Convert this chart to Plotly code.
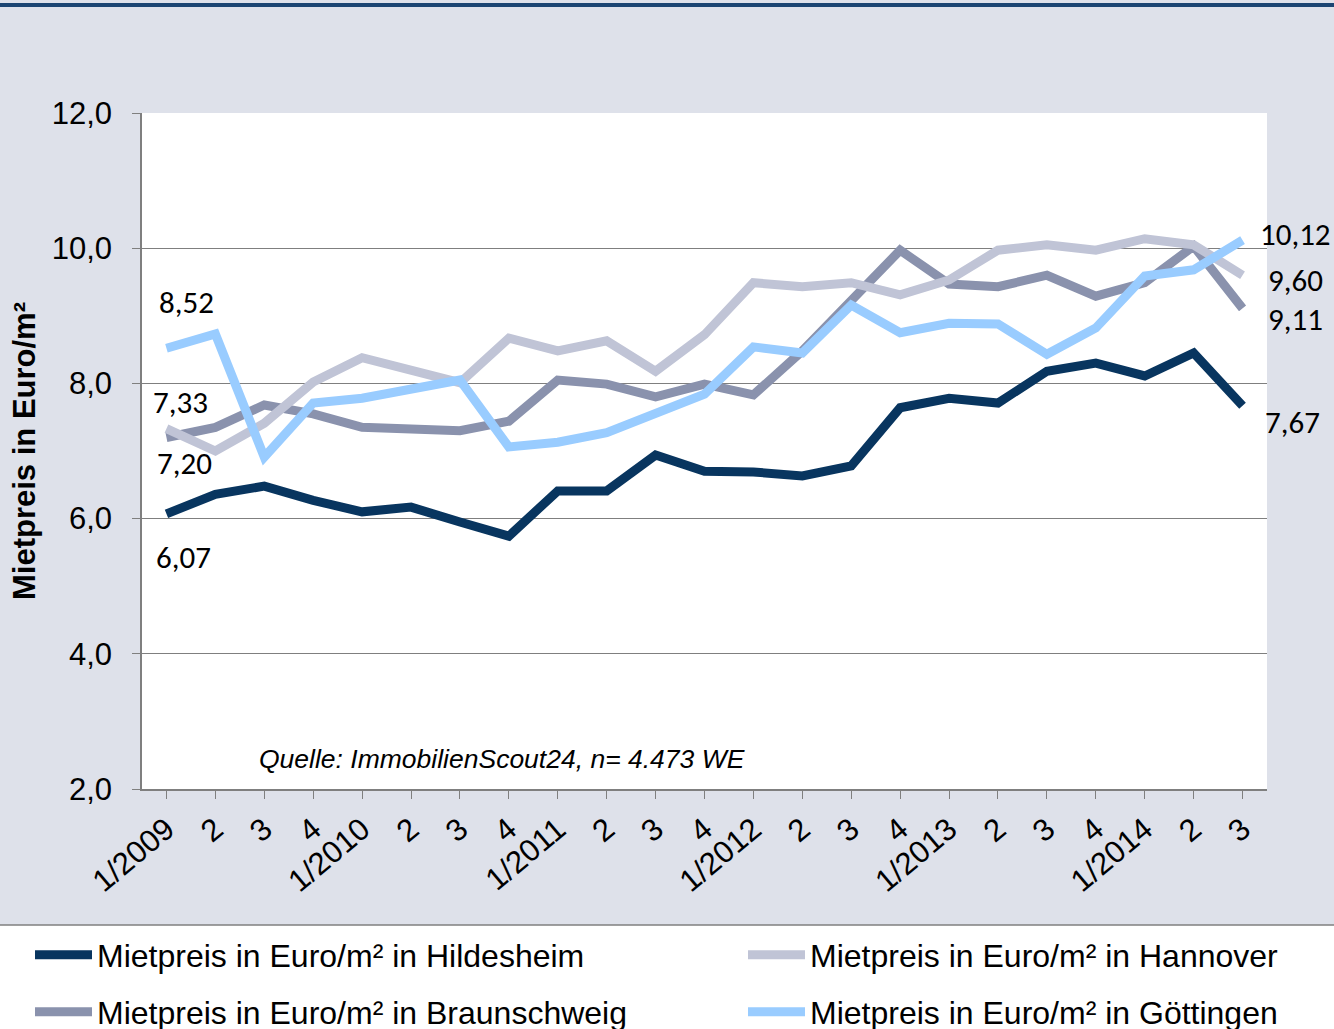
import plotly.graph_objects as go

categories = ["1/2009", "2", "3", "4", "1/2010", "2", "3", "4", "1/2011", "2", "3", "4",
              "1/2012", "2", "3", "4", "1/2013", "2", "3", "4", "1/2014", "2", "3"]

hildesheim = [6.07, 6.36, 6.48, 6.27, 6.10, 6.17, 5.95, 5.74, 6.41, 6.41, 6.94, 6.70,
              6.69, 6.63, 6.78, 7.64, 7.78, 7.71, 8.18, 8.30, 8.11, 8.45, 7.67]
hannover = [7.33, 7.00, 7.41, 8.02, 8.38, 8.18, 8.01, 8.67, 8.48, 8.63, 8.18, 8.72,
            9.49, 9.43, 9.49, 9.31, 9.53, 9.97, 10.05, 9.97, 10.14, 10.05, 9.60]
braunschweig = [7.20, 7.35, 7.68, 7.55, 7.35, 7.32, 7.30, 7.44, 8.05, 7.99, 7.80, 7.99,
                7.83, 8.48, 9.23, 9.97, 9.47, 9.43, 9.60, 9.29, 9.49, 10.03, 9.11]
goettingen = [8.52, 8.73, 6.91, 7.71, 7.78, 7.90, 8.05, 7.06, 7.13, 7.27, 7.56, 7.84,
              8.54, 8.45, 9.16, 8.75, 8.89, 8.88, 8.43, 8.82, 9.59, 9.68, 10.12]

names = ["Mietpreis in Euro/m² in Hildesheim", "Mietpreis in Euro/m² in Hannover",
         "Mietpreis in Euro/m² in Braunschweig", "Mietpreis in Euro/m² in Göttingen"]
source_text = "Quelle: ImmobilienScout24, n= 4.473 WE"
y_title = "Mietpreis in Euro/m²"

colors = {"hil": "#08355F", "han": "#C0C4D6", "bra": "#8A92AD", "goe": "#99CCFF"}

W, H = 1334, 1029
ML, MR, MT, MB = 142, 67, 113, 240
PW, PH = W - ML - MR, H - MT - MB


def px_x(px):
    return (px - ML) / PW


def px_y(py):
    return (H - MB - py) / PH


fig = go.Figure()
series = [
    (hildesheim, names[0], colors["hil"], "legend"),
    (braunschweig, names[2], colors["bra"], "legend3"),
    (hannover, names[1], colors["han"], "legend2"),
    (goettingen, names[3], colors["goe"], "legend4"),
]
xidx = list(range(len(categories)))
for vals, nm, col, lg in series:
    fig.add_trace(go.Scatter(x=xidx, y=vals, name=nm, mode="lines",
                             line=dict(color=col, width=9), legend=lg))


def fmt(v):
    return f"{v:.2f}".replace(".", ",")


label_font = dict(family="Carlito, Lato, sans-serif", size=31, color="#000000")
first_labels = [(goettingen, 20, 46), (hannover, 14, 27), (braunschweig, 18, -26), (hildesheim, 17, -43)]
last_labels = [(goettingen, 53, 6), (hannover, 53, -5), (braunschweig, 53, -11), (hildesheim, 50, -16)]
annotations = []
for vals, xs, ys in first_labels:
    annotations.append(dict(x=0, y=vals[0], xref="x", yref="y", text=fmt(vals[0]), showarrow=False,
                            xshift=xs, yshift=ys, font=label_font))
for vals, xs, ys in last_labels:
    n = len(vals) - 1
    annotations.append(dict(x=n, y=vals[n], xref="x", yref="y", text=fmt(vals[n]), showarrow=False,
                            xshift=xs, yshift=ys, font=label_font))
annotations.append(dict(x=px_x(257), y=px_y(759), xref="paper", yref="paper", text=source_text,
                        showarrow=False, xanchor="left", yanchor="middle",
                        font=dict(family="Liberation Sans, Arial", size=26.5, style="italic", color="#000000")))

shapes = [
    # top dark band
    dict(type="rect", xref="paper", yref="paper", x0=px_x(0), x1=px_x(W), y0=px_y(7), y1=px_y(3),
         fillcolor="#1B4472", line=dict(width=0), layer="below"),
    # legend white area
    dict(type="rect", xref="paper", yref="paper", x0=px_x(0), x1=px_x(W), y0=px_y(H + 5), y1=px_y(925),
         fillcolor="#FFFFFF", line=dict(width=0), layer="below"),
    dict(type="line", xref="paper", yref="paper", x0=px_x(0), x1=px_x(W), y0=px_y(925), y1=px_y(925),
         line=dict(color="#7F7F7F", width=1.5), layer="below"),
]

leg_font = dict(family="Liberation Sans, Arial", size=32, color="#000000")
leg_common = dict(orientation="h", xref="container", yref="container", xanchor="left",
                  yanchor="middle", bgcolor="rgba(0,0,0,0)", font=leg_font, borderwidth=0,
                  itemwidth=57)

fig.update_layout(
    width=W, height=H,
    margin=dict(l=ML, r=MR, t=MT, b=MB, autoexpand=False),
    paper_bgcolor="#DEE1EA",
    plot_bgcolor="#FFFFFF",
    separators=",.",
    showlegend=True,
    legend=dict(x=30 / W, y=1 - 955 / H, **leg_common),
    legend2=dict(x=743 / W, y=1 - 955 / H, **leg_common),
    legend3=dict(x=30 / W, y=1 - 1012 / H, **leg_common),
    legend4=dict(x=743 / W, y=1 - 1012 / H, **leg_common),
    annotations=annotations,
    shapes=shapes,
    xaxis=dict(
        tickmode="array", tickvals=xidx, ticktext=categories,
        range=[-0.5, len(categories) - 0.5],
        tickangle=-40, ticks="outside", ticklen=8, tickcolor="#7F7F7F",
        showline=True, linecolor="#7F7F7F", linewidth=1.5, showgrid=False, zeroline=False,
        tickfont=dict(family="Liberation Sans, Arial", size=31, color="#000000"),
    ),
    yaxis=dict(
        range=[2, 12], tick0=2, dtick=2, tickformat=".1f",
        ticks="outside", ticklen=8, tickcolor="#7F7F7F", ticklabelstandoff=14,
        showline=True, linecolor="#7F7F7F", linewidth=1.5,
        showgrid=True, gridcolor="#7F7F7F", gridwidth=1, zeroline=False,
        tickfont=dict(family="Liberation Sans, Arial", size=31, color="#000000"),
        title=dict(text=y_title, standoff=7,
                   font=dict(family="Liberation Sans, Arial", size=31, weight="bold", color="#000000")),
    ),
)

fig.write_html("out.html", config={"displayModeBar": False},
               post_script="document.body.style.margin='0px';")
